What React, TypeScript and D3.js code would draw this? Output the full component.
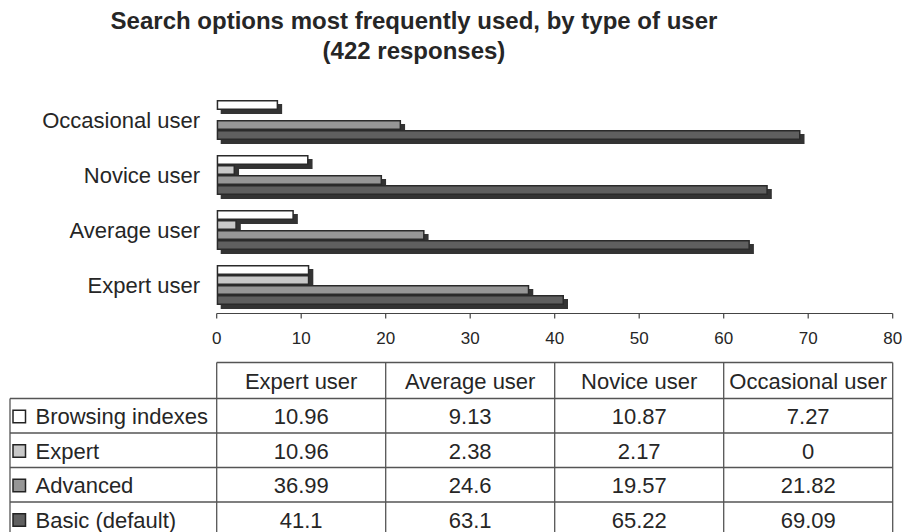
import React from "react";
import * as d3 from "d3";

const categories = ["Expert user", "Average user", "Novice user", "Occasional user"];
const seriesNames = ["Browsing indexes", "Expert", "Advanced", "Basic (default)"];
const browsingValues = [10.96, 9.13, 10.87, 7.27];
const expertValues = [10.96, 2.38, 2.17, 0];
const advancedValues = [36.99, 24.6, 19.57, 21.82];
const basicValues = [41.1, 63.1, 65.22, 69.09];
const seriesValues = [browsingValues, expertValues, advancedValues, basicValues];
const seriesColors = ["#ffffff", "#c8c8c8", "#969696", "#5f5f5f"];
const xTicks = [0, 10, 20, 30, 40, 50, 60, 70, 80];

const W = 902;
const H = 532;
const FONT = "'Liberation Sans', Arial, sans-serif";
const TEXT = "#262626";
const SHADOW = "#333333";
const FS = 22;

export default function App() {
  const x = d3.scaleLinear().domain([0, 80]).range([216.7, 892.7]);
  const yDomain = [...categories].reverse();
  const y = d3
    .scaleBand<string>()
    .domain(yDomain)
    .range([92.5, 312.5])
    .paddingInner(15 / 55)
    .paddingOuter(7.5 / 55);
  const ySub = d3.scaleBand<string>().domain(seriesNames).range([0, y.bandwidth()]);

  const colX = d3.scaleBand<string>().domain(categories).range([x(0), x(80)]);
  const headerTop = 362.5;
  const headerBottom = 398.5;
  const rowH = 34.5;
  const rowY = d3
    .scaleBand<string>()
    .domain(seriesNames)
    .range([headerBottom, headerBottom + rowH * seriesNames.length]);

  const lineColor = "#555";
  const off = 4;

  return (
    <svg
      width={W}
      height={H}
      style={{ position: "absolute", left: 0, top: 0, background: "#fff" }}
      fontFamily={FONT}
    >
      <rect x={0} y={0} width={W} height={H} fill="#fff" />
      {/* Title */}
      <text x={414} y={28.5} textAnchor="middle" fontSize={24} fontWeight="bold" fill={TEXT}>
        Search options most frequently used, by type of user
      </text>
      <text x={414} y={58.5} textAnchor="middle" fontSize={24} fontWeight="bold" fill={TEXT}>
        (422 responses)
      </text>

      {/* Bars */}
      {yDomain.map((cat) => {
        const ci = categories.indexOf(cat);
        const y0 = y(cat)!;
        return (
          <g key={cat}>
            {seriesNames.map((s, si) => {
              const v = seriesValues[si][ci];
              if (v <= 0) return null;
              const by = y0 + ySub(s)!;
              const bw = x(v) - x(0);
              const bh = ySub.bandwidth();
              return (
                <g key={s}>
                  <rect x={x(0) + off} y={by + off} width={bw} height={bh} fill={SHADOW} />
                  <rect
                    x={x(0) + 0.75}
                    y={by + 0.75}
                    width={bw - 1.5}
                    height={bh - 1.5}
                    fill={seriesColors[si]}
                    stroke="#2a2a2a"
                    strokeWidth={1.5}
                  />
                </g>
              );
            })}
            <text
              x={200}
              y={y0 + y.bandwidth() / 2}
              textAnchor="end"
              dominantBaseline="central"
              fontSize={FS}
              fill={TEXT}
            >
              {cat}
            </text>
          </g>
        );
      })}

      {/* X axis */}
      <line x1={x(0)} x2={x(80)} y1={313.5} y2={313.5} stroke="#444" strokeWidth={1.2} />
      {xTicks.map((t) => (
        <g key={t}>
          <line x1={x(t)} x2={x(t)} y1={313.5} y2={318.5} stroke="#444" strokeWidth={1.2} />
          <text
            x={x(t)}
            y={338}
            textAnchor="middle"
            dominantBaseline="central"
            fontSize={17}
            fill={TEXT}
          >
            {t}
          </text>
        </g>
      ))}

      {/* Table */}
      <g stroke={lineColor} strokeWidth={1.3} fill="none">
        <line x1={x(0)} x2={x(80)} y1={headerTop} y2={headerTop} />
        {seriesNames.map((s) => (
          <line key={s} x1={10} x2={x(80)} y1={rowY(s)!} y2={rowY(s)!} />
        ))}
        <line x1={10} x2={x(80)} y1={rowY.range()[1]} y2={rowY.range()[1]} />
        <line x1={10} x2={10} y1={headerBottom} y2={H + 10} />
        {categories.map((c) => (
          <line key={c} x1={colX(c)!} x2={colX(c)!} y1={headerTop} y2={H + 10} />
        ))}
        <line x1={x(80)} x2={x(80)} y1={headerTop} y2={H + 10} />
      </g>
      {categories.map((c) => (
        <text
          key={c}
          x={colX(c)! + colX.bandwidth() / 2}
          y={(headerTop + headerBottom) / 2 + 1}
          textAnchor="middle"
          dominantBaseline="central"
          fontSize={FS}
          fill={TEXT}
        >
          {c}
        </text>
      ))}
      {seriesNames.map((s, si) => {
        const ry = rowY(s)!;
        const cy = ry + rowH / 2 + 1;
        return (
          <g key={s}>
            <rect
              x={13}
              y={cy - 6.5}
              width={12.5}
              height={12.5}
              fill={seriesColors[si]}
              stroke="#222"
              strokeWidth={1.5}
            />
            <text x={35.5} y={cy} dominantBaseline="central" fontSize={FS} fill={TEXT}>
              {s}
            </text>
            {categories.map((c, ci) => (
              <text
                key={c}
                x={colX(c)! + colX.bandwidth() / 2}
                y={cy}
                textAnchor="middle"
                dominantBaseline="central"
                fontSize={FS}
                fill={TEXT}
              >
                {String(seriesValues[si][ci])}
              </text>
            ))}
          </g>
        );
      })}
    </svg>
  );
}
